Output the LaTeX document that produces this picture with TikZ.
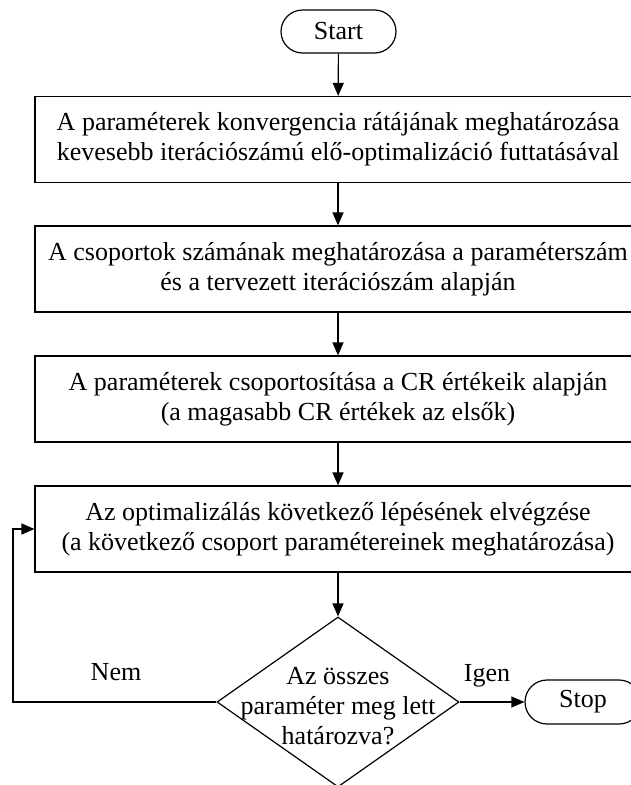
\documentclass[tikz,border=0pt]{standalone}
\usepackage{fontspec}
\setmainfont{Liberation Serif}
\usetikzlibrary{shapes.geometric,shapes.misc,arrows.meta}
\begin{document}
\begin{tikzpicture}[x=1pt,y=-1pt,
  font=\fontsize{26}{30}\selectfont,
  line width=1.2pt,
  procbox/.style={draw,rectangle,minimum width=606pt,minimum height=86pt,align=center,inner sep=0pt},
  terminal/.style={draw,rounded rectangle,minimum width=115pt,minimum height=43pt,inner sep=0pt},
  decision/.style={draw,diamond,minimum width=242pt,minimum height=170pt,inner sep=0pt},
  arr/.style={-{Triangle[length=13pt,width=11pt]}}]
\useasboundingbox (0,0) rectangle (630,785);
\node[terminal] (start) at (338.5,31.5) {Start};
\node[procbox] (b1) at (338,139.5) {A paraméterek konvergencia rátájának meghatározása\\kevesebb iterációszámú elő-optimalizáció futtatásával};
\node[procbox] (b2) at (338,269) {A csoportok számának meghatározása a paraméterszám\\és a tervezett iterációszám alapján};
\node[procbox] (b3) at (338,399) {A paraméterek csoportosítása a CR értékeik alapján\\(a magasabb CR értékek az elsők)};
\node[procbox] (b4) at (338,529) {Az optimalizálás következő lépésének elvégzése\\(a következő csoport paramétereinek meghatározása)};
\node[decision] (d) at (338,702) {};
\node[align=center,inner sep=0pt] (dtext) at (338,706) {Az összes\\paraméter meg lett\\határozva?};
\node[terminal,minimum width=116pt,minimum height=44pt] (stop) at (583,702) {Stop};
\node[anchor=base,inner sep=0pt] (nem) at (116,680) {Nem};
\node[anchor=base,inner sep=0pt] (igen) at (487,681) {Igen};
\coordinate (fbl) at (13,702);
\coordinate (fbu) at (13,529);
\draw[arr] (start) -- (b1);
\draw[arr] (b1) -- (b2);
\draw[arr] (b2) -- (b3);
\draw[arr] (b3) -- (b4);
\draw[arr] (b4) -- (d);
\draw[arr] (d.east) -- (stop.west);
\draw[arr] (d.west) -- (fbl) -- (fbu) -- (b4.west);
\end{tikzpicture}
\end{document}
